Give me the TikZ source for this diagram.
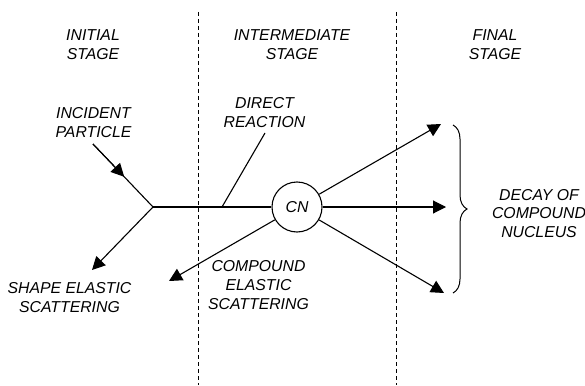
\documentclass[tikz,border=0pt]{standalone}
\usepackage{fontspec}
\setmainfont{Liberation Sans}
\usetikzlibrary{arrows.meta,decorations.pathreplacing,calc}
\begin{document}
\begin{tikzpicture}[x=1pt,y=-1pt,
  lbl/.style={font=\fontsize{15.8}{18.6}\selectfont\itshape, align=center, inner sep=0pt},
  conn/.style={line width=1.1pt, black},
  arr/.style={conn, -{Triangle[length=13pt,width=13pt]}},
  divider/.style={line width=1pt, dash pattern=on 4pt off 3pt}]
\useasboundingbox (0,0) rectangle (585,385);
% dividers
\coordinate (v1t) at (198,12); \coordinate (v1b) at (198,385);
\coordinate (v2t) at (396.5,12); \coordinate (v2b) at (396.5,385);
\draw[divider] (v1t) -- (v1b);
\draw[divider] (v2t) -- (v2b);
% stage labels
\node[lbl] (initial) at (93,44.5) {INITIAL\\STAGE};
\node[lbl] (inter) at (292,44.5) {INTERMEDIATE\\STAGE};
\node[lbl] (final) at (495,44.5) {FINAL\\STAGE};
% other labels
\node[lbl] (incident) at (93.5,122.5) {INCIDENT\\PARTICLE};
\node[lbl] (direct) at (264.5,112.5) {DIRECT\\REACTION};
\node[lbl] (shape) at (69.5,297.5) {SHAPE ELASTIC\\SCATTERING};
\node[lbl] (compel) at (258.5,285) {COMPOUND\\ELASTIC\\SCATTERING};
\node[lbl] (decay) at (539,213.5) {DECAY OF\\COMPOUND\\NUCLEUS};
% compound nucleus
\node[circle, draw, line width=1.1pt, minimum size=50pt, inner sep=0pt,
  font=\fontsize{15.8}{18.6}\selectfont\itshape] (cn) at (297,207) {CN};
% connectors
\coordinate (inc) at (93,144);
\coordinate (j) at (153,207);
\coordinate (se) at (92,270);
\coordinate (dr0) at (222,207);
\coordinate (dr1) at (265,133);
\coordinate (ce) at (169,281);
\coordinate (d1) at (441,124);
\coordinate (d2) at (446,207);
\coordinate (d3) at (444,293);
\draw[conn] (inc) -- (j);
\draw[arr] (inc) -- ($(inc)!0.52!(j)$);
\draw[arr] (j) -- (se);
\draw[conn] (j) -- (cn.west);
\draw[conn] (dr0) -- (dr1);
\draw[arr] (cn) -- (ce);
\draw[arr] (cn) -- (d1);
\draw[arr] (cn) -- (d2);
\draw[arr] (cn) -- (d3);
% brace
\coordinate (bt) at (453,125);
\coordinate (bb) at (453,293);
\draw[conn, line width=1pt, decorate, decoration={brace, amplitude=14pt}] (bt) -- (bb);
\end{tikzpicture}
\end{document}
